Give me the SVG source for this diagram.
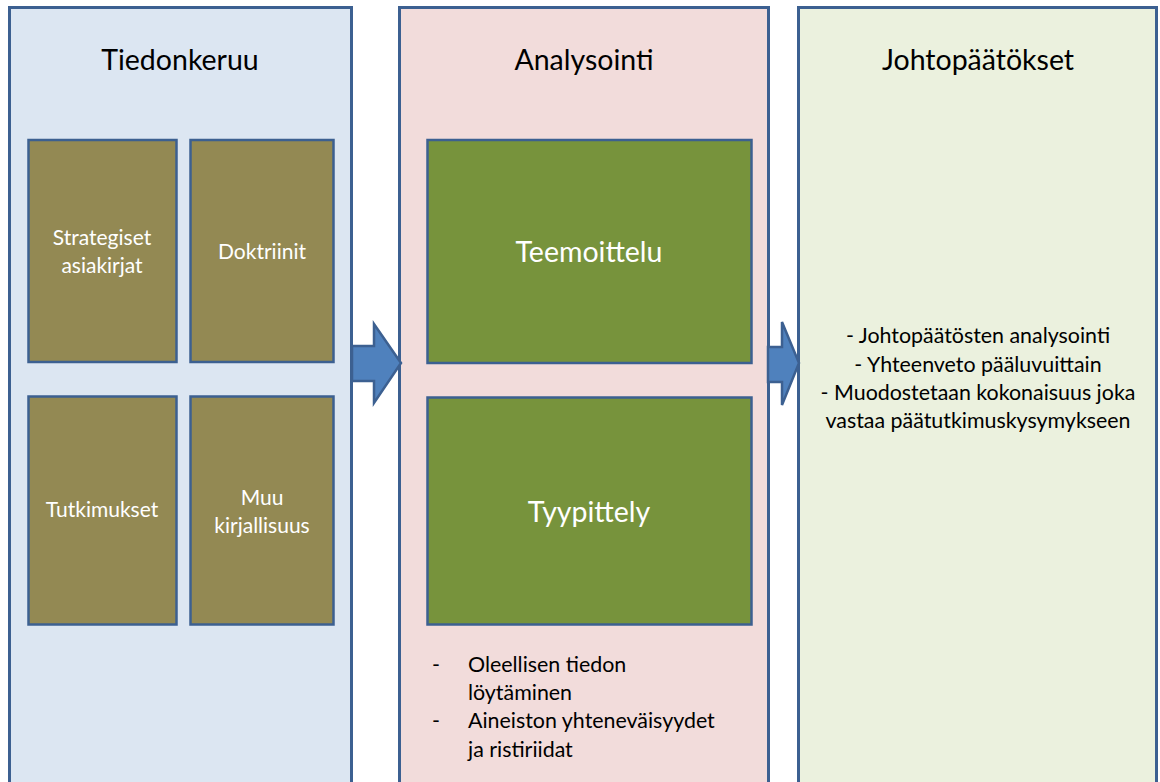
<svg xmlns="http://www.w3.org/2000/svg" width="1160" height="782" viewBox="0 0 1160 782">
<style>
.panel{stroke:#3C6091;stroke-width:3}
.box{stroke:#3C6091;stroke-width:2.5}
.title{font-family:Lato,"Open Sans",sans-serif;font-size:28.5px;fill:#000;text-anchor:middle}
.wt{font-family:Lato,"Open Sans",sans-serif;font-size:21px;fill:#fff;text-anchor:middle}
.big{font-family:Lato,"Open Sans",sans-serif;font-size:28.5px;fill:#fff;text-anchor:middle}
.body{font-family:Lato,"Open Sans",sans-serif;font-size:21.4px;fill:#000}
.arrow{fill:#4F81BD;stroke:#3C6091;stroke-width:2.5;stroke-linejoin:miter}
</style>
<rect width="1160" height="782" fill="#fff"/>
<g id="panel-tiedonkeruu">
<rect class="panel" x="9.5" y="7.5" width="342" height="790" fill="#DCE6F2"/>
<text class="title" x="180" y="70">Tiedonkeruu</text>
</g>
<g id="panel-analysointi">
<rect class="panel" x="399.5" y="7.5" width="369" height="790" fill="#F2DCDB"/>
<text class="title" x="584" y="70">Analysointi</text>
<text class="body" x="432" y="672">-</text>
<text class="body" x="468" y="672">Oleellisen tiedon</text>
<text class="body" x="468" y="700">löytäminen</text>
<text class="body" x="432" y="728">-</text>
<text class="body" x="468" y="728">Aineiston yhteneväisyydet</text>
<text class="body" x="468" y="757">ja ristiriidat</text>
</g>
<g id="panel-johtopaatokset">
<rect class="panel" x="798.5" y="7.5" width="358" height="790" fill="#EBF1DE"/>
<text class="title" x="978" y="70">Johtopäätökset</text>
<text class="body" x="978" y="343" text-anchor="middle">- Johtopäätösten analysointi</text>
<text class="body" x="978" y="372" text-anchor="middle">- Yhteenveto pääluvuittain</text>
<text class="body" x="978" y="400" text-anchor="middle">- Muodostetaan kokonaisuus joka</text>
<text class="body" x="978" y="428" text-anchor="middle">vastaa päätutkimuskysymykseen</text>
</g>
<g id="node-strategiset">
<rect class="box" x="28.5" y="140" width="148" height="222" fill="#938953"/>
<text class="wt" x="102" y="245">Strategiset</text>
<text class="wt" x="102" y="273">asiakirjat</text>
</g>
<g id="node-doktriinit">
<rect class="box" x="190.5" y="140" width="143" height="222" fill="#938953"/>
<text class="wt" x="262" y="259">Doktriinit</text>
</g>
<g id="node-tutkimukset">
<rect class="box" x="28.5" y="396.5" width="148" height="228" fill="#938953"/>
<text class="wt" x="102" y="517">Tutkimukset</text>
</g>
<g id="node-muu">
<rect class="box" x="190.5" y="396.5" width="143" height="228" fill="#938953"/>
<text class="wt" x="262" y="505">Muu</text>
<text class="wt" x="262" y="533">kirjallisuus</text>
</g>
<g id="node-teemoittelu">
<rect class="box" x="427.5" y="140" width="324" height="223" fill="#77933C"/>
<text class="big" x="589" y="262">Teemoittelu</text>
</g>
<g id="node-tyypittely">
<rect class="box" x="427.5" y="397.5" width="324" height="227" fill="#77933C"/>
<text class="big" x="589" y="522">Tyypittely</text>
</g>
<g id="connectors">
<path class="arrow" d="M352,346 H374 V324 L401,363 L374,403 V381 H352 Z"/>
<path class="arrow" d="M768,347 H782 V322 L799,363 L782,405 V382 H768 Z"/>
</g>
</svg>
